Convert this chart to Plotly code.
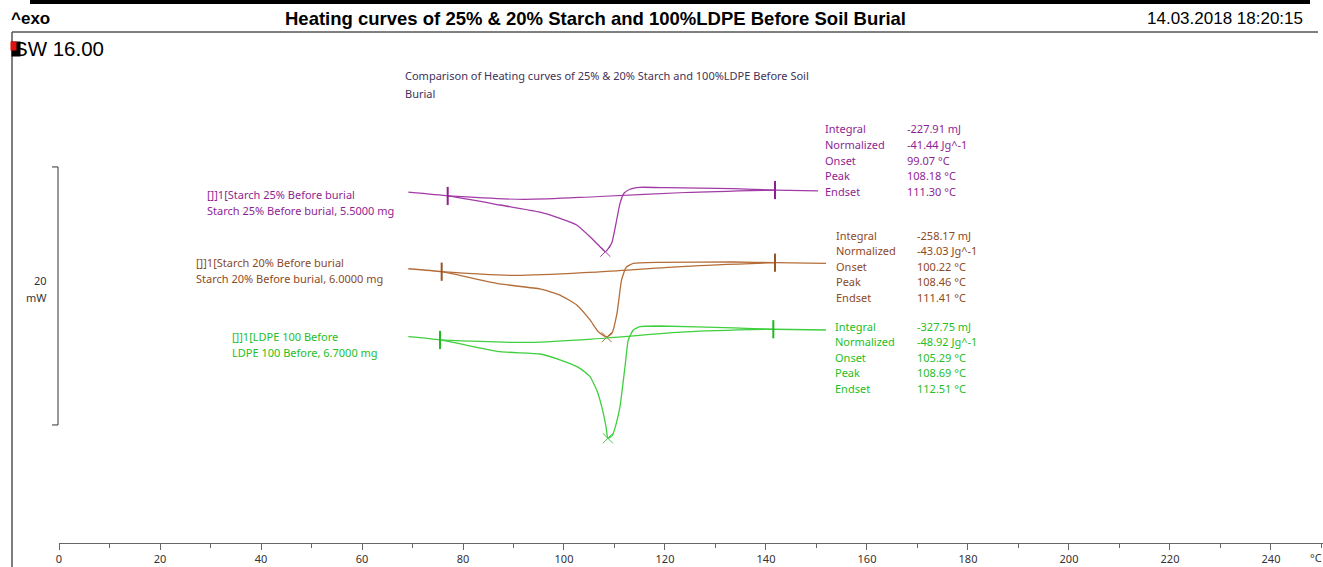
import numpy as np
import plotly.graph_objects as go

# ---- DSC heating curves, temperature in °C, heat flow in mW (exo up) ----
s25_temp = [69.17, 76.97, 87.33, 95.25, 99.21, 102.51, 105.15, 107.13, 108.18,
            109.44, 110.30, 111.09, 111.88, 113.07, 115.05, 120.34, 133.47, 141.78, 150.30]
s25_flow = [27.19, 26.90, 26.20, 25.64, 25.17, 24.65, 23.74, 22.97, 22.58,
            23.23, 24.78, 26.33, 27.11, 27.42, 27.57, 27.54, 27.47, 27.36, 27.29]
s25_base_temp = [76.97, 92.0, 107.0, 124.0, 141.78]
s25_base_flow = [26.90, 26.64, 26.86, 27.17, 27.36]

s20_temp = [69.17, 75.78, 87.33, 95.25, 99.21, 102.51, 105.15, 106.79, 108.46,
            109.50, 110.50, 111.40, 112.30, 113.72, 119.01, 133.52, 141.78, 151.88]
s20_flow = [21.26, 21.03, 20.08, 19.69, 19.22, 18.45, 17.29, 16.38, 15.95,
            16.26, 17.81, 20.39, 21.37, 21.68, 21.76, 21.78, 21.73, 21.68]
s20_base_temp = [75.78, 90.0, 107.0, 124.0, 141.78]
s20_base_flow = [21.03, 20.74, 21.02, 21.45, 21.73]

ldpe_temp = [69.17, 75.45, 87.33, 95.25, 99.21, 103.17, 105.15, 106.48, 107.47, 108.32,
             108.69, 109.60, 110.30, 111.09, 112.08, 112.73, 113.72, 115.05, 119.01, 133.52, 141.45, 151.88]
ldpe_flow = [15.99, 15.74, 14.83, 14.65, 14.19, 13.54, 12.89, 11.86, 10.57, 9.02,
             8.12, 8.35, 9.20, 10.57, 13.67, 15.74, 16.51, 16.77, 16.82, 16.67, 16.57, 16.51]
ldpe_base_temp = [75.45, 93.0, 108.0, 124.0, 141.45]
ldpe_base_flow = [15.74, 15.55, 15.87, 16.36, 16.57]

# integration limits and peak temperatures (°C)
s25_limits = [76.97, 141.78]
s20_limits = [75.78, 141.78]
ldpe_limits = [75.45, 141.45]
peak_temps = [108.18, 108.46, 108.69]

# evaluation tables
result_keys = ["Integral", "Normalized", "Onset", "Peak", "Endset"]
s25_results = ["-227.91 mJ", "-41.44 Jg^-1", "99.07 °C", "108.18 °C", "111.30 °C"]
s20_results = ["-258.17 mJ", "-43.03 Jg^-1", "100.22 °C", "108.46 °C", "111.41 °C"]
ldpe_results = ["-327.75 mJ", "-48.92 Jg^-1", "105.29 °C", "108.69 °C", "112.51 °C"]

curve_names = ["[]]1[Starch 25% Before burial", "[]]1[Starch 20% Before burial", "[]]1[LDPE 100 Before"]
curve_samples = ["Starch 25% Before burial, 5.5000 mg", "Starch 20% Before burial, 6.0000 mg",
                 "LDPE 100 Before, 6.7000 mg"]

x_ticks = list(range(0, 241, 20))
scale_bar_mw = 20
scale_bar_bottom = 9.15

# ---- page geometry ----
W, H = 1323, 567
ML, MB = 59, 24
X_MAX = 250.3
Y_MAX = 42.09
FONT = "Noto Sans"


def px(xp):
    return (xp - ML) / (W - ML)


def py(yp):
    return (H - MB - yp) / (H - MB)


curve_cols = ["#A23BA6", "#B46D38", "#3FCF3F"]
mark_cols = ["#8E1F92", "#9A5424", "#22B822"]
text_cols = ["#8E1F92", "#8C4A1F", "#25BE25"]

series = [
    (s25_temp, s25_flow, s25_base_temp, s25_base_flow, s25_limits),
    (s20_temp, s20_flow, s20_base_temp, s20_base_flow, s20_limits),
    (ldpe_temp, ldpe_flow, ldpe_base_temp, ldpe_base_flow, ldpe_limits),
]

fig = go.Figure()
for i, (t, f, bt, bf, lim) in enumerate(series):
    col = curve_cols[i]
    mcol = mark_cols[i]
    fig.add_trace(go.Scatter(x=t, y=f, mode="lines",
                             line=dict(color=col, width=1.3, shape="spline", smoothing=0.45),
                             hoverinfo="skip"))
    fig.add_trace(go.Scatter(x=bt, y=bf, mode="lines",
                             line=dict(color=col, width=1.2, shape="spline", smoothing=0.9),
                             hoverinfo="skip"))
    lim_y = list(np.interp(lim, t, f))
    fig.add_trace(go.Scatter(x=lim, y=lim_y, mode="markers",
                             marker=dict(symbol="line-ns-open", size=13, color=mcol,
                                         line=dict(color=mcol, width=2)),
                             hoverinfo="skip"))
    pk = peak_temps[i]
    fig.add_trace(go.Scatter(x=[pk], y=[float(np.interp(pk, t, f))], mode="markers",
                             marker=dict(symbol="x-thin-open", size=10, color=col,
                                         line=dict(color=col, width=1)),
                             hoverinfo="skip"))

shapes = [
    # frame lines of the report page
    dict(type="line", xref="paper", yref="paper", x0=px(30), x1=px(1310), y0=py(2), y1=py(2),
         line=dict(color="black", width=4)),
    dict(type="line", xref="paper", yref="paper", x0=px(12), x1=px(1318), y0=py(32), y1=py(32),
         line=dict(color="black", width=1)),
    dict(type="line", xref="paper", yref="paper", x0=px(12), x1=px(12), y0=py(32), y1=py(567),
         line=dict(color="#555555", width=1.5)),
    # 20 mW scale bar
    dict(type="line", xref="paper", yref="y", x0=px(58), x1=px(58),
         y0=scale_bar_bottom, y1=scale_bar_bottom + scale_bar_mw, line=dict(color="#333333", width=1)),
    dict(type="line", xref="paper", yref="y", x0=px(52), x1=px(58),
         y0=scale_bar_bottom, y1=scale_bar_bottom, line=dict(color="#333333", width=1)),
    dict(type="line", xref="paper", yref="y", x0=px(52), x1=px(58),
         y0=scale_bar_bottom + scale_bar_mw, y1=scale_bar_bottom + scale_bar_mw,
         line=dict(color="#333333", width=1)),
]

ann = []


def text(x, y, s, size=11, color="#333333", xanchor="left", bold=False, family=FONT, **kw):
    ann.append(dict(x=px(x), y=py(y), xref="paper", yref="paper", text=f"<b>{s}</b>" if bold else s,
                    showarrow=False, xanchor=xanchor, yanchor="middle",
                    font=dict(family=family, size=size, color=color), **kw))


# page header
text(9, 18, "^exo", size=17, color="black", bold=True, family="Liberation Sans")
text(595, 18, "Heating curves of 25% &amp; 20% Starch and 100%LDPE Before Soil Burial", size=18.5,
     color="black", xanchor="center", bold=True, family="Liberation Sans")
text(1305, 18, "14.03.2018 18:20:15", size=17, color="black", xanchor="right", family="Liberation Sans")
text(12, 48, "SW 16.00", size=20.5, color="black", family="Liberation Sans")

# overlapping channel markers in front of the SW label
text(11, 48.5, " ", size=8, xanchor="left", bgcolor="black", width=8, height=14, borderpad=0)
text(10, 46.5, " ", size=8, xanchor="left", bgcolor="#E01010", width=5, height=8, borderpad=0)

# chart caption
cap_col = "#41335A"
text(403, 76, "Comparison of Heating curves of 25% &amp; 20% Starch and 100%LDPE Before Soil", color=cap_col)
text(403, 93, "Burial", color=cap_col)

# scale bar label
text(49, 280, "20", xanchor="right")
text(49, 297, "mW", xanchor="right")

# curve labels
name_pos = [(205, 194), (194, 262), (230, 336)]
for i, (x0, y0) in enumerate(name_pos):
    text(x0, y0, curve_names[i], color=text_cols[i])
    text(x0, y0 + 16, curve_samples[i], color=text_cols[i])

# evaluation tables
table_pos = [(823, 905, 129), (834, 915, 235), (833, 915, 326)]
tables = [s25_results, s20_results, ldpe_results]
for i, (xl, xv, y0) in enumerate(table_pos):
    for k, (key, val) in enumerate(zip(result_keys, tables[i])):
        yy = y0 + k * 15.5
        text(xl, yy, key, color=text_cols[i])
        text(xv, yy, val, color=text_cols[i])

# axis unit
text(1308, 557, "°C")

fig.update_layout(
    width=W, height=H,
    margin=dict(l=ML, r=0, t=0, b=MB, pad=0),
    paper_bgcolor="white", plot_bgcolor="white",
    showlegend=False,
    shapes=shapes,
    annotations=ann,
    xaxis=dict(range=[0, X_MAX], showline=True, linecolor="#666666", linewidth=1,
               ticks="outside", ticklen=6, tickcolor="#666666", tickwidth=1,
               tickvals=x_ticks, ticktext=[str(v) for v in x_ticks],
               minor=dict(ticks="outside", ticklen=4, dtick=10, tick0=0, tickcolor="#666666"),
               showgrid=False, zeroline=False,
               tickfont=dict(family=FONT, size=11, color="#333333"), fixedrange=True),
    yaxis=dict(range=[0, Y_MAX], visible=False, fixedrange=True),
)

fig.write_html("out.html")
